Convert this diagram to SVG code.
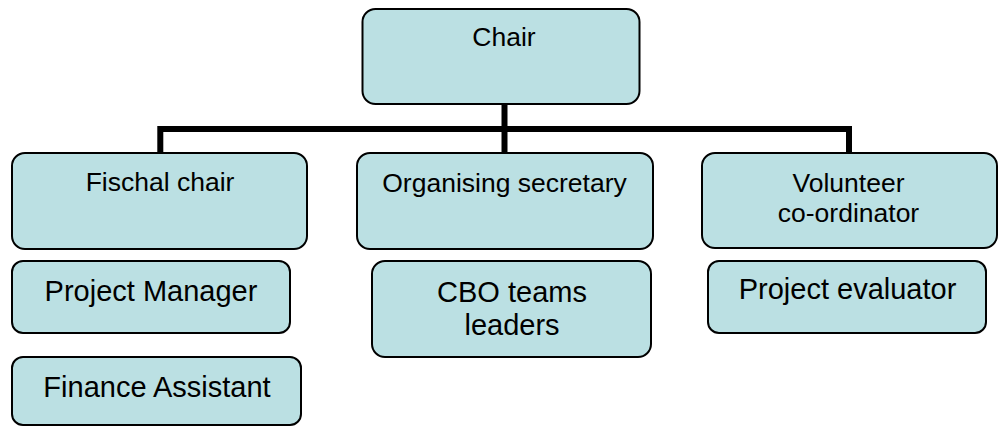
<svg xmlns="http://www.w3.org/2000/svg" width="1001" height="426" viewBox="0 0 1001 426">
<style>
.box{fill:#BBE0E3;stroke:#000;stroke-width:2}
.t{font-family:"Liberation Sans",Arial,sans-serif;fill:#000;text-anchor:middle}
.l1{font-size:26.5px}
.l2{font-size:29px}
.conn{fill:none;stroke:#000;stroke-width:6;stroke-linejoin:miter;stroke-linecap:butt}
</style>
<rect width="1001" height="426" fill="#fff"/>
<g id="connectors">
<path class="conn" d="M504.5 104 V129"/>
<path class="conn" d="M160.3 153 V129 H849 V153"/>
<path class="conn" d="M504.5 129 V153"/>
</g>
<g id="chair"><rect class="box" x="362.5" y="9" width="277" height="95" rx="13"/><text class="t l1" x="504" y="46">Chair</text></g>
<g id="fischal"><rect class="box" x="12" y="153" width="295" height="96" rx="13"/><text class="t l1" x="160" y="191">Fischal chair</text></g>
<g id="organising"><rect class="box" x="357" y="153" width="296" height="96" rx="13"/><text class="t l1" x="504.5" y="192">Organising secretary</text></g>
<g id="volunteer"><rect class="box" x="702" y="153" width="295" height="95" rx="13"/><text class="t l1" x="848.5" y="192">Volunteer</text><text class="t l1" x="848.5" y="222">co-ordinator</text></g>
<g id="pm"><rect class="box" x="12" y="261" width="278" height="72" rx="11"/><text class="t l2" x="151" y="301">Project Manager</text></g>
<g id="cbo"><rect class="box" x="372" y="261" width="279" height="96" rx="13"/><text class="t l2" x="512" y="302">CBO teams</text><text class="t l2" x="512" y="335">leaders</text></g>
<g id="pe"><rect class="box" x="708" y="261" width="278" height="72" rx="11"/><text class="t l2" x="847.5" y="299">Project evaluator</text></g>
<g id="finance"><rect class="box" x="12" y="357" width="289" height="68" rx="11"/><text class="t l2" x="157" y="397">Finance Assistant</text></g>
</svg>
